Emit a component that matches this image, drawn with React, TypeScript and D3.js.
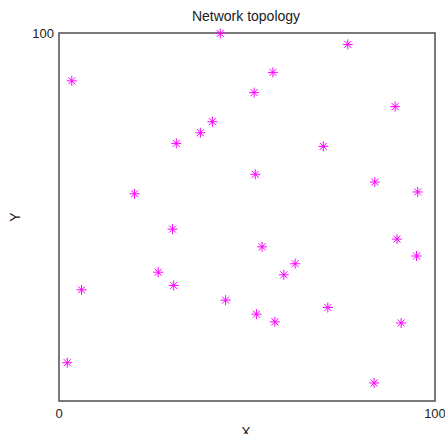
import React, { useEffect, useRef } from 'react';
import * as d3 from 'd3';

// node positions
const nodeX = [42.9, 3.4, 40.8, 37.6, 31.2, 20.1, 76.8, 56.9, 51.9, 89.4, 70.3, 52.2, 84.0, 95.4, 30.2,
  26.4, 30.5, 6.0, 44.3, 2.2, 89.9, 54.0, 95.1, 62.8, 59.8, 71.5, 52.5, 57.4, 91.0, 83.8];
const nodeY = [99.9, 87.0, 75.9, 72.9, 70.0, 56.3, 96.9, 89.3, 83.8, 80.0, 69.2, 61.6, 59.5, 56.8, 46.7,
  35.0, 31.4, 30.2, 27.4, 10.4, 44.0, 41.9, 39.4, 37.3, 34.3, 25.4, 23.6, 21.5, 21.2, 4.9];
const xTicks = [0, 100];
const yTicks = [0, 100];

const App = () => {
  const svgRef = useRef<SVGSVGElement>(null);

  useEffect(() => {
    const W = 445;
    const H = 434;
    const margin = { top: 33, right: 10, bottom: 33, left: 59 };
    const innerW = 376;
    const innerH = 368;

    const svgEl = d3.select(svgRef.current);
    svgEl.selectAll('*').remove();
    svgEl.attr('width', W).attr('height', H).style('font-family', 'Arial, "Liberation Sans", sans-serif');

    svgEl.append('rect').attr('width', W).attr('height', H).attr('fill', '#fff');

    const g = svgEl.append('g').attr('transform', `translate(${margin.left},${margin.top})`);

    const x = d3.scaleLinear().domain([0, 100]).range([0, innerW]);
    const y = d3.scaleLinear().domain([0, 100]).range([innerH, 0]);

    // box
    g.append('rect')
      .attr('width', innerW)
      .attr('height', innerH)
      .attr('fill', 'none')
      .attr('stroke', '#4d4d4d')
      .attr('stroke-width', 1.5);

    // tick labels
    g.selectAll('text.xt')
      .data(xTicks)
      .enter()
      .append('text')
      .attr('x', d => x(d))
      .attr('y', innerH + 17)
      .attr('text-anchor', 'middle')
      .attr('font-size', 13)
      .attr('fill', '#222')
      .text(d => d);

    g.selectAll('text.yt')
      .data(yTicks.filter(d => d !== 0))
      .enter()
      .append('text')
      .attr('x', -5)
      .attr('y', d => y(d) + 4.5)
      .attr('text-anchor', 'end')
      .attr('font-size', 13)
      .attr('fill', '#222')
      .text(d => d);

    // title and axis labels
    svgEl.append('text')
      .attr('x', margin.left + innerW / 2 - 1)
      .attr('y', 21)
      .attr('text-anchor', 'middle')
      .attr('font-size', 14)
      .attr('fill', '#222')
      .text('Network topology');

    svgEl.append('text')
      .attr('x', margin.left + innerW / 2 - 1)
      .attr('y', 437)
      .attr('text-anchor', 'middle')
      .attr('font-size', 14)
      .attr('fill', '#222')
      .text('X');

    svgEl.append('text')
      .attr('transform', `translate(20,${margin.top + innerH / 2}) rotate(-90)`)
      .attr('text-anchor', 'middle')
      .attr('font-size', 14)
      .attr('fill', '#222')
      .text('Y');

    // asterisk markers
    const r = 5;
    const d = r * 0.7;
    const star = `M${-r},0L${r},0M0,${-r}L0,${r}M${-d},${-d}L${d},${d}M${-d},${d}L${d},${-d}`;

    g.selectAll('path.node')
      .data(nodeX.map((v, i) => ({ x: v, y: nodeY[i] })))
      .enter()
      .append('path')
      .attr('d', star)
      .attr('transform', p => `translate(${x(p.x)},${y(p.y)})`)
      .attr('fill', 'none')
      .attr('stroke', '#ff00ff')
      .attr('stroke-width', 1);
  }, []);

  return <svg ref={svgRef} style={{ position: 'absolute', left: 0, top: 0 }}></svg>;
};

export default App;
